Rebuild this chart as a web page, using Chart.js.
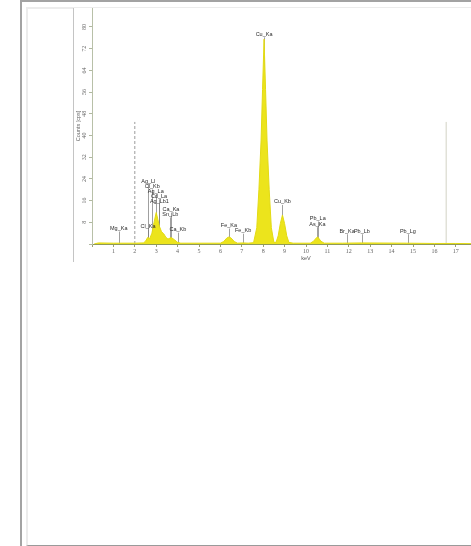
<!DOCTYPE html>
<html>
<head>
<meta charset="utf-8">
<script src="https://cdn.jsdelivr.net/npm/chart.js@4/dist/chart.umd.min.js"></script>
<style>
  html, body { margin: 0; padding: 0; overflow: hidden; background: #fff; }
  #outer { position: absolute; left: 20px; top: 0; width: 470px; height: 546px;
           border-left: 2px solid #a3a3a3; border-top: 2px solid #a3a3a3; }
  #inner { position: absolute; left: 26px; top: 7px; width: 470px; height: 536px;
           border-left: 2px solid #ececec; border-top: 2px solid #ececec; border-bottom: 1px solid #9a9a9a; }
  #frame { position: absolute; left: 73px; top: 8px; width: 398px; height: 254px;
           border-left: 1px solid #c4c4c4; overflow: hidden; background: #fff; }
  #spectrum { position: absolute; left: 0; top: 0; }
</style>
</head>
<body>
<div id="outer"></div>
<div id="inner"></div>
<div id="frame"><canvas id="spectrum" width="446" height="254"></canvas></div>
<script>
// Spectre EDS (keV / coups)
const specEnergy = [0.1, 0.3, 1.0, 2.0, 2.4, 2.5, 2.6, 2.7, 2.8, 2.9, 3.0, 3.08, 3.15, 3.25, 3.35, 3.45, 3.55, 3.7, 3.85, 4.0, 4.15,
                    5.0, 6.0, 6.15, 6.3, 6.4, 6.5, 6.65, 6.8, 7.06, 7.3,
                    7.55, 7.7, 7.8, 7.9, 7.97, 8.04, 8.11, 8.18, 8.28, 8.38, 8.5,
                    8.6, 8.7, 8.8, 8.9, 9.0, 9.1, 9.2, 9.4,
                    10.2, 10.35, 10.5, 10.55, 10.7, 10.85, 11.7, 12.6, 14.7, 16.0, 17.0, 18.0, 20.0];
const specCounts = [0, 0.4, 0.3, 0.3, 0.4, 1.0, 2.4, 2.0, 4.0, 8.0, 11.6, 9.0, 6.5, 4.5, 3.8, 2.5, 1.8, 2.4, 1.6, 0.6, 0.3,
                    0.3, 0.3, 0.9, 2.2, 2.6, 2.2, 0.9, 0.3, 0.4, 0.3,
                    0.5, 6, 20, 38, 57, 75.5, 57, 38, 20, 6, 0.6,
                    0.6, 3, 7.5, 10.7, 7.5, 3, 0.6, 0.3,
                    0.3, 1.0, 2.4, 2.6, 1.0, 0.3, 0.3, 0.4, 0.3, 0.2, 0.2, 0.1, 0];

// Raies identifiées
const markerNames = ['Mg_Ka', 'Ag_Ll', 'Cl_Kb', 'Ag_La', 'Cd_La', 'Ag_Lb1', 'Ca_Ka', 'Sn_Lb', 'Cl_Ka', 'Ca_Kb',
                     'Fe_Ka', 'Fe_Kb', 'Cu_Ka', 'Cu_Kb', 'Pb_La', 'As_Ka', 'Br_Ka', 'Pb_Lb', 'Pb_Lg'];
const markerEnergies = [1.25, 2.63, 2.82, 2.98, 3.13, 3.15, 3.69, 3.66, 2.62, 4.01,
                        6.40, 7.06, 8.04, 8.90, 10.55, 10.53, 11.92, 12.61, 14.76];
const markerLevels = [5.7, 23.1, 21.2, 19.5, 17.6, 15.8, 12.7, 10.9, 6.5, 5.3,
                      6.8, 4.9, 77.3, 15.5, 9.4, 7.3, 4.7, 4.7, 4.7];

// Limites de la zone d'intérêt
const roiEnergies = [2.0, 16.55];
const roiHeight = 45;

const yTicksStep = 8;
const yMax = 87;
const xMax = 20;

const spectrumPoints = specEnergy.map((e, i) => ({ x: e, y: specCounts[i] }));

const peakLabels = {
    id: 'peakLabels',
    beforeDatasetsDraw(chart) {
        const ctx = chart.ctx;
        const xs = chart.scales.x, ys = chart.scales.y;
        ctx.save();
        ctx.strokeStyle = '#777';
        ctx.lineWidth = 0.7;
        markerEnergies.forEach((e, i) => {
            const x = Math.round(xs.getPixelForValue(e)) + 0.5;
            ctx.beginPath();
            ctx.moveTo(x, ys.getPixelForValue(markerLevels[i]) + 3);
            ctx.lineTo(x, ys.getPixelForValue(0));
            ctx.stroke();
        });
        ctx.restore();
    },
    afterDatasetsDraw(chart) {
        const ctx = chart.ctx;
        const xs = chart.scales.x, ys = chart.scales.y;
        ctx.save();
        ctx.font = '5.5px "Liberation Sans"';
        ctx.fillStyle = '#2a2a2a';
        ctx.textAlign = 'center';
        ctx.textBaseline = 'middle';
        markerNames.forEach((name, i) => {
            ctx.fillText(name, xs.getPixelForValue(markerEnergies[i]), ys.getPixelForValue(markerLevels[i]));
        });
        ctx.restore();
    }
};

new Chart(document.getElementById('spectrum'), {
    type: 'scatter',
    data: {
        datasets: [
            {
                data: spectrumPoints,
                showLine: true,
                fill: 'origin',
                backgroundColor: '#ece41c',
                borderColor: '#e2da14',
                borderWidth: 1,
                pointRadius: 0,
                tension: 0
            },
            {
                data: [{ x: roiEnergies[0], y: 0 }, { x: roiEnergies[0], y: roiHeight }],
                showLine: true,
                borderColor: '#9c9c9c',
                borderWidth: 1,
                borderDash: [3, 2],
                pointRadius: 0
            },
            {
                data: [{ x: roiEnergies[1], y: 0 }, { x: roiEnergies[1], y: roiHeight }],
                showLine: true,
                borderColor: '#d2d2c4',
                borderWidth: 1,
                pointRadius: 0
            }
        ]
    },
    options: {
        responsive: false,
        animation: false,
        layout: { padding: 0 },
        plugins: {
            legend: { display: false },
            tooltip: { enabled: false }
        },
        scales: {
            x: {
                type: 'linear',
                min: 0,
                max: xMax,
                grid: { drawOnChartArea: false, drawTicks: true, tickLength: 3, color: '#9aa070' },
                border: { color: '#8f9a5a', width: 1 },
                ticks: {
                    stepSize: 1,
                    autoSkip: false,
                    maxRotation: 0,
                    padding: 1,
                    color: '#666',
                    font: { family: 'Liberation Serif', size: 6 },
                    callback: v => (v > 0 && v < xMax) ? v : ''
                },
                title: {
                    display: true,
                    text: 'keV',
                    color: '#555',
                    font: { family: 'Liberation Sans', size: 5.5 },
                    padding: { top: 0, bottom: 0 }
                },
                afterFit(s) { s.height = 18; s.paddingLeft = 0; s.paddingRight = 0; }
            },
            y: {
                min: 0,
                max: yMax,
                grid: { drawOnChartArea: false, drawTicks: true, tickLength: 3, color: '#b0b8a0' },
                border: { color: '#b8c0a8', width: 1 },
                ticks: {
                    stepSize: yTicksStep,
                    includeBounds: false,
                    minRotation: 90,
                    maxRotation: 90,
                    crossAlign: 'center',
                    padding: 2,
                    color: '#666',
                    font: { family: 'Liberation Serif', size: 6 },
                    callback: v => v > 0 ? v : ''
                },
                title: {
                    display: true,
                    text: 'Counts [cps]',
                    color: '#666',
                    font: { family: 'Liberation Sans', size: 5.5 },
                    padding: { top: 1, bottom: 0 }
                },
                afterFit(s) { s.width = 18; s.paddingTop = 0; s.paddingBottom = 0; }
            }
        }
    },
    plugins: [peakLabels]
});
</script>
</body>
</html>
